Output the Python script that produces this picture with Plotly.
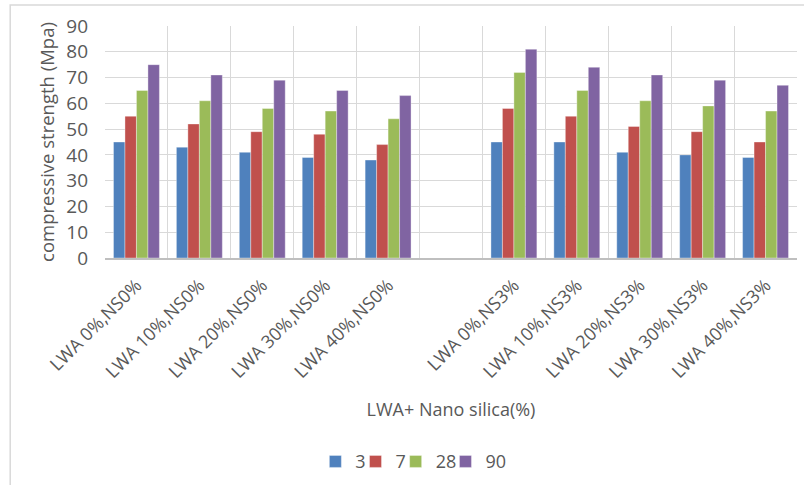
import plotly.graph_objects as go

# Mix labels (a blank slot separates the two nano-silica groups)
categories = ["LWA 0%,NS0%", "LWA 10%,NS0%", "LWA 20%,NS0%", "LWA 30%,NS0%", "LWA 40%,NS0%",
              " ",
              "LWA 0%,NS3%", "LWA 10%,NS3%", "LWA 20%,NS3%", "LWA 30%,NS3%", "LWA 40%,NS3%"]

# Compressive strength (MPa) by curing age in days
age_3 = [45, 43, 41, 39, 38, None, 45, 45, 41, 40, 39]
age_7 = [55, 52, 49, 48, 44, None, 58, 55, 51, 49, 45]
age_28 = [65, 61, 58, 57, 54, None, 72, 65, 61, 59, 57]
age_90 = [75, 71, 69, 65, 63, None, 81, 74, 71, 69, 67]

series = [("3", age_3, "#4F81BD"), ("7", age_7, "#C0504D"),
          ("28", age_28, "#9BBB59"), ("90", age_90, "#8064A2")]

y_ticks = list(range(0, 91, 10))

font_family = "Open Sans, Liberation Sans, sans-serif"
grey = "#595959"

# one single-entry legend per series so the entries can sit close together
legend_x = [0.304, 0.362, 0.420, 0.492]
legend_names = ["legend", "legend2", "legend3", "legend4"]

fig = go.Figure()
for (name, vals, color), lg in zip(series, legend_names):
    fig.add_trace(go.Bar(
        x=categories, y=vals, name=name, legend=lg,
        marker=dict(color=color, line=dict(color="rgba(255,255,255,0.6)", width=0.6)),
    ))

legend_layouts = {}
for lg, lx in zip(legend_names, legend_x):
    legend_layouts[lg] = dict(orientation="h", x=lx, xanchor="left", y=-0.87, yanchor="middle",
                              font=dict(size=18, color=grey), itemwidth=30,
                              bgcolor="rgba(0,0,0,0)")

fig.update_layout(
    width=804, height=485,
    margin=dict(l=105, r=7, t=26, b=226),
    paper_bgcolor="white", plot_bgcolor="white",
    barmode="group", bargap=0.27, bargroupgap=0,
    font=dict(family=font_family, color=grey),
    showlegend=True,
    xaxis=dict(
        type="category", categoryorder="array", categoryarray=categories,
        tickson="boundaries", showgrid=True, gridcolor="#D9D9D9", gridwidth=1.2,
        ticks="", tickangle=-45, tickfont=dict(size=18, color=grey), ticklabelstandoff=8,
        showline=True, linecolor="#BFBFBF", linewidth=1.5,
        title=dict(text="LWA+ Nano silica(%)", font=dict(size=18, color=grey), standoff=22),
        range=[-0.5, 10.5],
    ),
    yaxis=dict(
        range=[0, 90], tickvals=y_ticks, showgrid=True, gridcolor="#D9D9D9", gridwidth=1.2,
        zeroline=False, showline=False, tickfont=dict(size=19, color=grey), ticks="",
        ticklabelstandoff=16,
        title=dict(text="compressive strength (Mpa)", font=dict(size=18.5, color=grey), standoff=6),
    ),
    shapes=[dict(type="rect", xref="paper", yref="paper", x0=-0.137, x1=1.2, y0=-1.6, y1=1.09,
                 line=dict(color="#D9D9D9", width=1.5), fillcolor="rgba(0,0,0,0)", layer="below")],
    **legend_layouts,
)

fig.write_html("out.html")
